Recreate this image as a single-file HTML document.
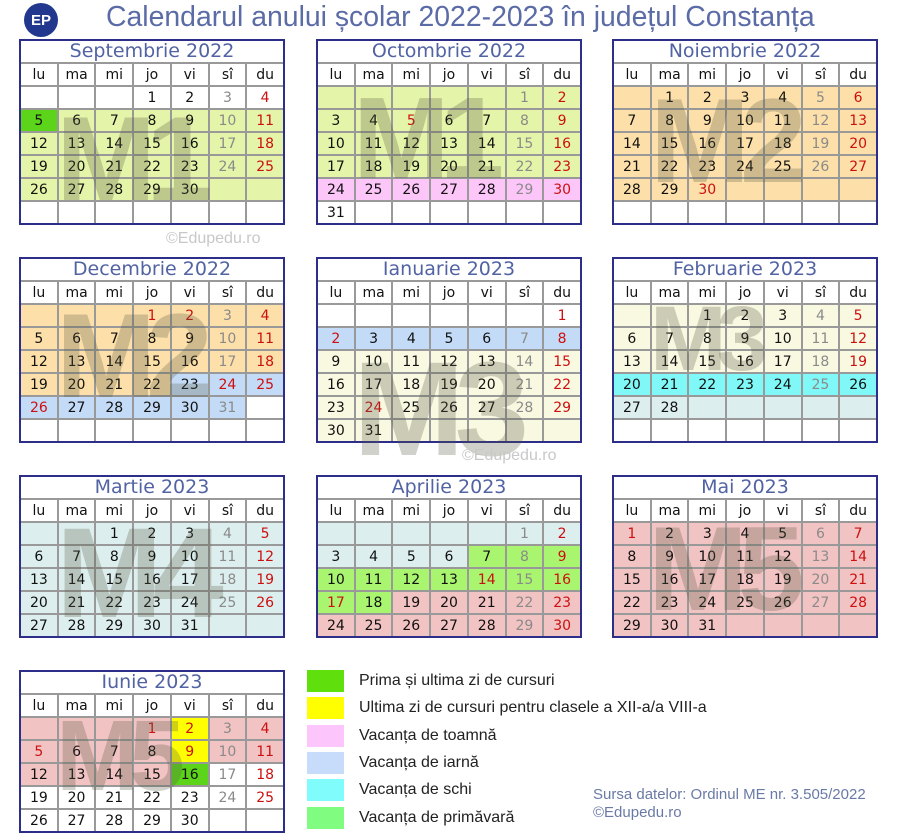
<!DOCTYPE html>
<html><head><meta charset="utf-8"><style>
body{margin:0;width:902px;height:840px;background:#fff;position:relative;overflow:hidden;font-family:"DejaVu Sans",sans-serif}
.m{position:absolute;width:262px;border:2px solid #2d2d8a;background:#999;display:grid;grid-template-columns:repeat(7,1fr);gap:2px;grid-auto-rows:21px}
.m i{font-style:normal;display:flex;align-items:center;justify-content:center;font-size:14px;color:#111;background:#fff}
.m b{grid-column:span 7;background:#fff;font-weight:normal;color:#5263a3;font-size:19px;text-align:center;line-height:21px}
.w{background:#fff!important}.g1{background:#e4f4a8!important}.gb{background:#5bd41a!important}.pk{background:#fdc6f9!important}.or{background:#fde0a9!important}.bl{background:#c4dbf8!important}.cr{background:#f9f9e2!important}.cy{background:#80f8f8!important}.pb{background:#ddeeee!important}.sg{background:#a9f56f!important}.rs{background:#f2c3c3!important}.ye{background:#ffff00!important}
.m i.s{color:#8a8a8a}.m i.r{color:#cc1010}
.lg{position:absolute;left:307px;width:37px;height:22px}
.lt{position:absolute;left:359px;font-family:"Liberation Sans",sans-serif;font-size:16px;color:#222}
.wm{position:absolute;font-family:"Liberation Sans",sans-serif;font-size:16px;color:#c8c8c8}
</style></head><body>
<div style="position:absolute;left:24px;top:3px;width:34px;height:34px;border-radius:50%;background:#22388f;color:#fff;font:bold 15px 'Liberation Sans',sans-serif;display:flex;align-items:center;justify-content:center">EP</div>
<div style="position:absolute;left:106px;top:1px;font-family:'Liberation Sans',sans-serif;font-size:28.4px;color:#5b6ba6;white-space:nowrap">Calendarul anului școlar 2022-2023 în județul Constanța</div>

<div class="m" style="left:19px;top:39px"><b>Septembrie 2022</b>
<i>lu</i><i>ma</i><i>mi</i><i>jo</i><i>vi</i><i>sî</i><i>du</i>
<i></i><i></i><i></i><i>1</i><i>2</i><i class="s">3</i><i class="r">4</i>
<i class="gb">5</i><i class="g1">6</i><i class="g1">7</i><i class="g1">8</i><i class="g1">9</i><i class="g1 s">10</i><i class="g1 r">11</i>
<i class="g1">12</i><i class="g1">13</i><i class="g1">14</i><i class="g1">15</i><i class="g1">16</i><i class="g1 s">17</i><i class="g1 r">18</i>
<i class="g1">19</i><i class="g1">20</i><i class="g1">21</i><i class="g1">22</i><i class="g1">23</i><i class="g1 s">24</i><i class="g1 r">25</i>
<i class="g1">26</i><i class="g1">27</i><i class="g1">28</i><i class="g1">29</i><i class="g1">30</i><i class="g1"></i><i class="g1"></i>
<i></i><i></i><i></i><i></i><i></i><i></i><i></i>
</div>

<div class="m" style="left:316px;top:39px"><b>Octombrie 2022</b>
<i>lu</i><i>ma</i><i>mi</i><i>jo</i><i>vi</i><i>sî</i><i>du</i>
<i class="g1"></i><i class="g1"></i><i class="g1"></i><i class="g1"></i><i class="g1"></i><i class="g1 s">1</i><i class="g1 r">2</i>
<i class="g1">3</i><i class="g1">4</i><i class="g1 r">5</i><i class="g1">6</i><i class="g1">7</i><i class="g1 s">8</i><i class="g1 r">9</i>
<i class="g1">10</i><i class="g1">11</i><i class="g1">12</i><i class="g1">13</i><i class="g1">14</i><i class="g1 s">15</i><i class="g1 r">16</i>
<i class="g1">17</i><i class="g1">18</i><i class="g1">19</i><i class="g1">20</i><i class="g1">21</i><i class="g1 s">22</i><i class="g1 r">23</i>
<i class="pk">24</i><i class="pk">25</i><i class="pk">26</i><i class="pk">27</i><i class="pk">28</i><i class="pk s">29</i><i class="pk r">30</i>
<i>31</i><i></i><i></i><i></i><i></i><i></i><i></i>
</div>

<div class="m" style="left:612px;top:39px"><b>Noiembrie 2022</b>
<i>lu</i><i>ma</i><i>mi</i><i>jo</i><i>vi</i><i>sî</i><i>du</i>
<i class="or"></i><i class="or">1</i><i class="or">2</i><i class="or">3</i><i class="or">4</i><i class="or s">5</i><i class="or r">6</i>
<i class="or">7</i><i class="or">8</i><i class="or">9</i><i class="or">10</i><i class="or">11</i><i class="or s">12</i><i class="or r">13</i>
<i class="or">14</i><i class="or">15</i><i class="or">16</i><i class="or">17</i><i class="or">18</i><i class="or s">19</i><i class="or r">20</i>
<i class="or">21</i><i class="or">22</i><i class="or">23</i><i class="or">24</i><i class="or">25</i><i class="or s">26</i><i class="or r">27</i>
<i class="or">28</i><i class="or">29</i><i class="or r">30</i><i class="or"></i><i class="or"></i><i class="or"></i><i class="or"></i>
<i></i><i></i><i></i><i></i><i></i><i></i><i></i>
</div>

<div class="m" style="left:19px;top:257px"><b>Decembrie 2022</b>
<i>lu</i><i>ma</i><i>mi</i><i>jo</i><i>vi</i><i>sî</i><i>du</i>
<i class="or"></i><i class="or"></i><i class="or"></i><i class="or r">1</i><i class="or r">2</i><i class="or s">3</i><i class="or r">4</i>
<i class="or">5</i><i class="or">6</i><i class="or">7</i><i class="or">8</i><i class="or">9</i><i class="or s">10</i><i class="or r">11</i>
<i class="or">12</i><i class="or">13</i><i class="or">14</i><i class="or">15</i><i class="or">16</i><i class="or s">17</i><i class="or r">18</i>
<i class="or">19</i><i class="or">20</i><i class="or">21</i><i class="or">22</i><i class="bl">23</i><i class="bl r">24</i><i class="bl r">25</i>
<i class="bl r">26</i><i class="bl">27</i><i class="bl">28</i><i class="bl">29</i><i class="bl">30</i><i class="bl s">31</i><i></i>
<i></i><i></i><i></i><i></i><i></i><i></i><i></i>
</div>

<div class="m" style="left:316px;top:257px"><b>Ianuarie 2023</b>
<i>lu</i><i>ma</i><i>mi</i><i>jo</i><i>vi</i><i>sî</i><i>du</i>
<i></i><i></i><i></i><i></i><i></i><i></i><i class="r">1</i>
<i class="bl r">2</i><i class="bl">3</i><i class="bl">4</i><i class="bl">5</i><i class="bl">6</i><i class="bl s">7</i><i class="bl r">8</i>
<i class="cr">9</i><i class="cr">10</i><i class="cr">11</i><i class="cr">12</i><i class="cr">13</i><i class="cr s">14</i><i class="cr r">15</i>
<i class="cr">16</i><i class="cr">17</i><i class="cr">18</i><i class="cr">19</i><i class="cr">20</i><i class="cr s">21</i><i class="cr r">22</i>
<i class="cr">23</i><i class="cr r">24</i><i class="cr">25</i><i class="cr">26</i><i class="cr">27</i><i class="cr s">28</i><i class="cr r">29</i>
<i class="cr">30</i><i class="cr">31</i><i class="cr"></i><i class="cr"></i><i class="cr"></i><i class="cr"></i><i class="cr"></i>
</div>

<div class="m" style="left:612px;top:257px"><b>Februarie 2023</b>
<i>lu</i><i>ma</i><i>mi</i><i>jo</i><i>vi</i><i>sî</i><i>du</i>
<i class="cr"></i><i class="cr"></i><i class="cr">1</i><i class="cr">2</i><i class="cr">3</i><i class="cr s">4</i><i class="cr r">5</i>
<i class="cr">6</i><i class="cr">7</i><i class="cr">8</i><i class="cr">9</i><i class="cr">10</i><i class="cr s">11</i><i class="cr r">12</i>
<i class="cr">13</i><i class="cr">14</i><i class="cr">15</i><i class="cr">16</i><i class="cr">17</i><i class="cr s">18</i><i class="cr r">19</i>
<i class="cy">20</i><i class="cy">21</i><i class="cy">22</i><i class="cy">23</i><i class="cy">24</i><i class="cy s">25</i><i class="cy">26</i>
<i class="pb">27</i><i class="pb">28</i><i class="pb"></i><i class="pb"></i><i class="pb"></i><i class="pb"></i><i class="pb"></i>
<i></i><i></i><i></i><i></i><i></i><i></i><i></i>
</div>

<div class="m" style="left:19px;top:475px"><b>Martie 2023</b>
<i>lu</i><i>ma</i><i>mi</i><i>jo</i><i>vi</i><i>sî</i><i>du</i>
<i class="pb"></i><i class="pb"></i><i class="pb">1</i><i class="pb">2</i><i class="pb">3</i><i class="pb s">4</i><i class="pb r">5</i>
<i class="pb">6</i><i class="pb">7</i><i class="pb">8</i><i class="pb">9</i><i class="pb">10</i><i class="pb s">11</i><i class="pb r">12</i>
<i class="pb">13</i><i class="pb">14</i><i class="pb">15</i><i class="pb">16</i><i class="pb">17</i><i class="pb s">18</i><i class="pb r">19</i>
<i class="pb">20</i><i class="pb">21</i><i class="pb">22</i><i class="pb">23</i><i class="pb">24</i><i class="pb s">25</i><i class="pb r">26</i>
<i class="pb">27</i><i class="pb">28</i><i class="pb">29</i><i class="pb">30</i><i class="pb">31</i><i class="pb"></i><i class="pb"></i>
</div>

<div class="m" style="left:316px;top:475px"><b>Aprilie 2023</b>
<i>lu</i><i>ma</i><i>mi</i><i>jo</i><i>vi</i><i>sî</i><i>du</i>
<i class="pb"></i><i class="pb"></i><i class="pb"></i><i class="pb"></i><i class="pb"></i><i class="pb s">1</i><i class="pb r">2</i>
<i class="pb">3</i><i class="pb">4</i><i class="pb">5</i><i class="pb">6</i><i class="sg">7</i><i class="sg s">8</i><i class="sg r">9</i>
<i class="sg">10</i><i class="sg">11</i><i class="sg">12</i><i class="sg">13</i><i class="sg r">14</i><i class="sg s">15</i><i class="sg r">16</i>
<i class="sg r">17</i><i class="sg">18</i><i class="rs">19</i><i class="rs">20</i><i class="rs">21</i><i class="rs s">22</i><i class="rs r">23</i>
<i class="rs">24</i><i class="rs">25</i><i class="rs">26</i><i class="rs">27</i><i class="rs">28</i><i class="rs s">29</i><i class="rs r">30</i>
</div>

<div class="m" style="left:612px;top:475px"><b>Mai 2023</b>
<i>lu</i><i>ma</i><i>mi</i><i>jo</i><i>vi</i><i>sî</i><i>du</i>
<i class="rs r">1</i><i class="rs">2</i><i class="rs">3</i><i class="rs">4</i><i class="rs">5</i><i class="rs s">6</i><i class="rs r">7</i>
<i class="rs">8</i><i class="rs">9</i><i class="rs">10</i><i class="rs">11</i><i class="rs">12</i><i class="rs s">13</i><i class="rs r">14</i>
<i class="rs">15</i><i class="rs">16</i><i class="rs">17</i><i class="rs">18</i><i class="rs">19</i><i class="rs s">20</i><i class="rs r">21</i>
<i class="rs">22</i><i class="rs">23</i><i class="rs">24</i><i class="rs">25</i><i class="rs">26</i><i class="rs s">27</i><i class="rs r">28</i>
<i class="rs">29</i><i class="rs">30</i><i class="rs">31</i><i class="rs"></i><i class="rs"></i><i class="rs"></i><i class="rs"></i>
</div>

<div class="m" style="left:19px;top:670px"><b>Iunie 2023</b>
<i>lu</i><i>ma</i><i>mi</i><i>jo</i><i>vi</i><i>sî</i><i>du</i>
<i class="rs"></i><i class="rs"></i><i class="rs"></i><i class="rs r">1</i><i class="ye r">2</i><i class="rs s">3</i><i class="rs r">4</i>
<i class="rs r">5</i><i class="rs">6</i><i class="rs">7</i><i class="rs">8</i><i class="ye r">9</i><i class="rs s">10</i><i class="rs r">11</i>
<i class="rs">12</i><i class="rs">13</i><i class="rs">14</i><i class="rs">15</i><i class="gb">16</i><i class="s">17</i><i class="r">18</i>
<i>19</i><i>20</i><i>21</i><i>22</i><i>23</i><i class="s">24</i><i class="r">25</i>
<i>26</i><i>27</i><i>28</i><i>29</i><i>30</i><i></i><i></i>
</div>

<svg width="902" height="840" style="position:absolute;left:0;top:0;pointer-events:none" font-family="Liberation Sans, sans-serif" font-weight="bold" fill="rgba(90,90,70,0.28)" letter-spacing="-10">
<text x="56" y="200" font-size="120">M1</text>
<text x="353" y="178" font-size="116">M1</text>
<text x="650" y="182" font-size="120">M2</text>
<text x="56" y="397" font-size="120">M2</text>
<text x="353" y="455" font-size="134">M3</text>
<text x="650" y="370" font-size="92">M3</text>
<text x="56" y="617" font-size="128">M4</text>
<text x="648" y="610" font-size="120">M5</text>
<text x="56" y="790" font-size="100">M5</text>
</svg>

<div class="wm" style="left:166px;top:230px">©Edupedu.ro</div>
<div class="wm" style="left:462px;top:447px">©Edupedu.ro</div>

<div class="lg" style="top:670px;background:#5fe00d"></div><div class="lt" style="top:672px">Prima și ultima zi de cursuri</div>
<div class="lg" style="top:697px;background:#ffff00"></div><div class="lt" style="top:699px">Ultima zi de cursuri pentru clasele a XII-a/a VIII-a</div>
<div class="lg" style="top:725px;background:#fcc5fc"></div><div class="lt" style="top:727px">Vacanța de toamnă</div>
<div class="lg" style="top:752px;background:#c6dcfa"></div><div class="lt" style="top:754px">Vacanța de iarnă</div>
<div class="lg" style="top:779px;background:#80fcfc"></div><div class="lt" style="top:781px">Vacanța de schi</div>
<div class="lg" style="top:807px;background:#80fc80"></div><div class="lt" style="top:809px">Vacanța de primăvară</div>
<div style="position:absolute;left:593px;top:786px;font-family:'Liberation Sans',sans-serif;font-size:15px;color:#6a7aa6;line-height:18px">Sursa datelor: Ordinul ME nr. 3.505/2022<br>©Edupedu.ro</div>
</body></html>
